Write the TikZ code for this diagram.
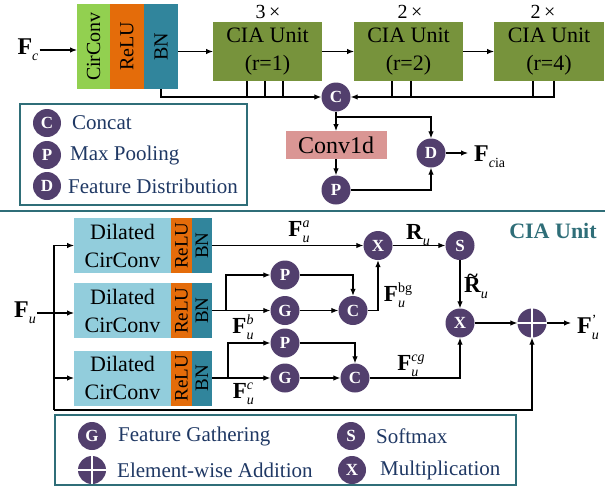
\documentclass[tikz,border=0pt]{standalone}
\usepackage{fontspec}
\setmainfont{Liberation Serif}
\usetikzlibrary{arrows.meta,calc}
\definecolor{purp}{RGB}{82,63,109}
\definecolor{cgreen}{RGB}{119,147,60}
\definecolor{lgreen}{RGB}{146,208,80}
\definecolor{orng}{RGB}{228,108,10}
\definecolor{tealb}{RGB}{49,133,156}
\definecolor{lblue}{RGB}{146,205,220}
\definecolor{pinkc}{RGB}{218,150,148}
\definecolor{navy}{RGB}{31,56,100}
\definecolor{teal2}{RGB}{47,110,120}
\newcommand{\fs}[1]{\fontsize{#1}{#1}\selectfont}
% bold letter with superscript #2 and subscript #3
\newcommand{\FSS}[3]{\textbf{#1}\hbox{\fontsize{14}{14}\selectfont\rlap{\raisebox{-6pt}{#3}}\raisebox{9pt}{#2}}}
\newcommand{\FSub}[2]{\textbf{#1}\hbox{\fontsize{14}{14}\selectfont\raisebox{-6pt}{#2}}}
\newcommand{\Rtil}{\ooalign{R\cr\hidewidth\raisebox{10pt}{\fontsize{20}{20}\selectfont\~{}}\hidewidth\cr}}
\begin{document}
\begin{tikzpicture}[x=1pt,y=-1pt,
  op/.style={circle,fill=purp,minimum size=29pt,inner sep=0pt,text=white,font=\fs{17}\bfseries},
  arr/.style={-{Latex[length=7pt,width=5.5pt]},line width=1.1pt},
  ln/.style={line width=1.1pt},
  blk/.style={inner sep=0pt,outer sep=0pt,draw=none},
  lab/.style={font=\fs{23},inner sep=1pt},
  legt/.style={anchor=west,inner sep=0pt,text=navy,font=\fs{21}},
  legbox/.style={draw=teal2,line width=1.6pt,inner sep=0pt}]
\useasboundingbox (0,0) rectangle (605,488);

% ---------- top part ----------
\node[lab,font=\fs{24}] (fc) at (28,50) {\FSub{F}{\textit{c}}};
\node[blk,fill=lgreen,minimum width=33pt,minimum height=85pt,font=\fs{20}] (cir) at (93.5,46.5) {\rotatebox{90}{CirConv}};
\node[blk,fill=orng,minimum width=34pt,minimum height=85pt,font=\fs{20}] (relu) at (127,46.5) {\rotatebox{90}{ReLU}};
\node[blk,fill=tealb,minimum width=34pt,minimum height=85pt,font=\fs{20}] (bn) at (161,46.5) {\rotatebox{90}{BN}};

\node[blk,fill=cgreen,minimum width=109pt,minimum height=59pt,align=center,font=\fontsize{22}{28}\selectfont] (cia1) at (267.5,51.5) {CIA Unit\\(r=1)};
\node[blk,fill=cgreen,minimum width=109pt,minimum height=59pt,align=center,font=\fontsize{22}{28}\selectfont] (cia2) at (408.5,51.5) {CIA Unit\\(r=2)};
\node[blk,fill=cgreen,minimum width=110pt,minimum height=59pt,align=center,font=\fontsize{22}{28}\selectfont] (cia3) at (549,51.5) {CIA Unit\\(r=4)};
\node[font=\fs{20}] (m1) at (268,12) {3\,×};
\node[font=\fs{20}] (m2) at (410,12) {2\,×};
\node[font=\fs{20}] (m3) at (543,12) {2\,×};

\draw[arr] (fc.east) -- (cir.west |- fc.east);
\draw[arr] (bn.east |- cia1.west) -- (cia1.west);
\draw[arr] (cia1) -- (cia2);
\draw[arr] (cia2) -- (cia3);

\node[op] (cc) at (336,97) {C};
\draw[arr] (bn.south) |- (cc.west);
\foreach \dx in {-20.5,-2.5,15.5}
  \draw[ln] ([xshift=\dx pt]cia1.south) -- ([xshift=\dx pt]cia1.south |- cc.west);
\foreach \dx in {-16.5,2.5}
  \draw[ln] ([xshift=\dx pt]cia2.south) -- ([xshift=\dx pt]cia2.south |- cc.east);
\draw[ln] ([xshift=-16pt]cia3.south) -- ([xshift=-16pt]cia3.south |- cc.east);
\draw[arr] ([xshift=5pt]cia3.south) |- (cc.east);

\node[blk,fill=pinkc,minimum width=101pt,minimum height=28pt,font=\fs{24}] (conv) at (336,145) {Conv1d};
\node[op] (pp) at (336,190) {P};
\node[op] (dd) at (431,153) {D};
\coordinate (br) at (336,117);
\draw[arr] (cc) -- (conv);
\draw[arr] (br) -| (dd.north);
\draw[arr] (conv) -- (pp);
\draw[arr] (pp.east) -| (dd.south);
\node[anchor=base west,inner sep=0pt,font=\fs{24}] (fcia) at (474,161) {\FSub{F}{\textit{c}ia}};
\draw[arr] (dd) -- ([xshift=-6pt]dd -| fcia.west);

% legend top
\node[legbox,minimum width=227pt,minimum height=101pt] (leg1) at (133.5,154.5) {};
\node[op,minimum size=28pt] (l1c) at (47,123) {C};
\node[legt] (l1ct) at (72,123) {Concat};
\node[op,minimum size=28pt] (l1p) at (47,155) {P};
\node[legt] (l1pt) at (70,155) {Max Pooling};
\node[op,minimum size=28pt] (l1d) at (47,186) {D};
\node[legt] (l1dt) at (68,186) {Feature Distribution};

% separator
\draw[teal2,line width=1.6pt] (0,211) -- (605,211);
\node[text=teal2,font=\fs{22}\bfseries] (ciat) at (553,231) {CIA Unit};

% ---------- bottom part ----------
\foreach \i/\y in {1/245.5,2/310.5,3/378}{
  \node[blk,fill=lblue,minimum width=97pt,minimum height=55pt,align=center,font=\fontsize{22}{28}\selectfont] (d\i) at (122.5,\y) {Dilated\\CirConv};
  \node[blk,fill=orng,minimum width=21pt,minimum height=55pt,font=\fs{19}] (r\i) at (181.5,\y) {\rotatebox{90}{ReLU}};
  \node[blk,fill=tealb,minimum width=20pt,minimum height=55pt,font=\fs{19}] (b\i) at (202,\y) {\rotatebox{90}{BN}};
}
\node[lab,font=\fs{24}] (fu) at (25,313) {\FSub{F}{\textit{u}}};
\draw[arr] (fu.east) -- (d2.west |- fu.east);
\coordinate (t1) at (54,245.5);
\coordinate (t3) at (54,378);
\coordinate (tb) at (54,410);

\node[op] (x1) at (378,245.5) {X};
\node[op] (ss) at (460,245.5) {S};
\node[op] (x2) at (460,323) {X};
\node[op] (plus) at (532,323) {};
\draw[white,line width=1.6pt] (plus.north) -- (plus.south) (plus.west) -- (plus.east);
\node[op] (p1) at (285,275) {P};
\node[op] (g1) at (285,310.5) {G};
\node[op] (c1) at (353,310.5) {C};
\node[op] (p2) at (285,343) {P};
\node[op] (g2) at (285,378) {G};
\node[op] (c2) at (355,378) {C};
\coordinate (sp2) at (226,310.5);
\coordinate (sp3) at (228,378);

\draw[arr] (tb) -- (t1) -- (d1.west);
\draw[arr] (t3) -- (d3.west);
\draw[arr] (tb) -| (plus.south);
\draw[arr] (b1.east) -- (x1.west);
\draw[arr] (x1) -- (ss);
\draw[arr] (ss) -- (x2);
\draw[arr] (x2) -- (plus);
\draw[arr] (b2.east) -- (g1.west);
\draw[arr] (sp2) |- (p1.west);
\draw[arr] (p1.east) -| (c1.north);
\draw[arr] (g1) -- (c1);
\draw[arr] (c1.east) -| (x1.south);
\draw[arr] (b3.east) -- (g2.west);
\draw[arr] (sp3) |- (p2.west);
\draw[arr] (p2.east) -| (c2.north);
\draw[arr] (g2) -- (c2);
\draw[arr] (c2.east) -| (x2.south);

\node[anchor=west,inner sep=0pt,font=\fs{24}] (fup) at (577,327) {\FSS{F}{'}{\textit{u}}};
\draw[arr] (plus) -- ([xshift=-6pt]plus -| fup.west);

\node[lab] (lfa) at (299,232) {\FSS{F}{\textit{a}}{\textit{u}}};
\node[lab] (lru) at (418,235) {\FSub{R}{\textit{u}}};
\node[lab] (lrt) at (476,288) {\FSub{\Rtil}{\textit{u}}};
\node[lab] (lfbg) at (398,295) {\FSS{F}{bg}{\textit{u}}};
\node[lab] (lfb) at (243,327) {\FSS{F}{\textit{b}}{\textit{u}}};
\node[lab] (lfcg) at (411,366) {\FSS{F}{\textit{cg}}{\textit{u}}};
\node[lab] (lfc) at (243,394) {\FSS{F}{\textit{c}}{\textit{u}}};

% legend bottom
\node[legbox,minimum width=461pt,minimum height=70pt] (leg2) at (285.5,450) {};
\node[op,minimum size=28pt] (lg) at (92,436) {G};
\node[legt] (lgt) at (118,436) {Feature Gathering};
\node[op,minimum size=28pt] (ls) at (351,436) {S};
\node[legt] (lst) at (376,436) {Softmax};
\node[op,minimum size=28pt] (lp) at (92,470) {};
\draw[white,line width=1.6pt] (lp.north) -- (lp.south) (lp.west) -- (lp.east);
\node[legt] (lpt) at (117,470) {Element-wise Addition};
\node[op,minimum size=28pt] (lx) at (352,470) {X};
\node[legt] (lxt) at (380,470) {Multiplication};
\end{tikzpicture}
\end{document}
